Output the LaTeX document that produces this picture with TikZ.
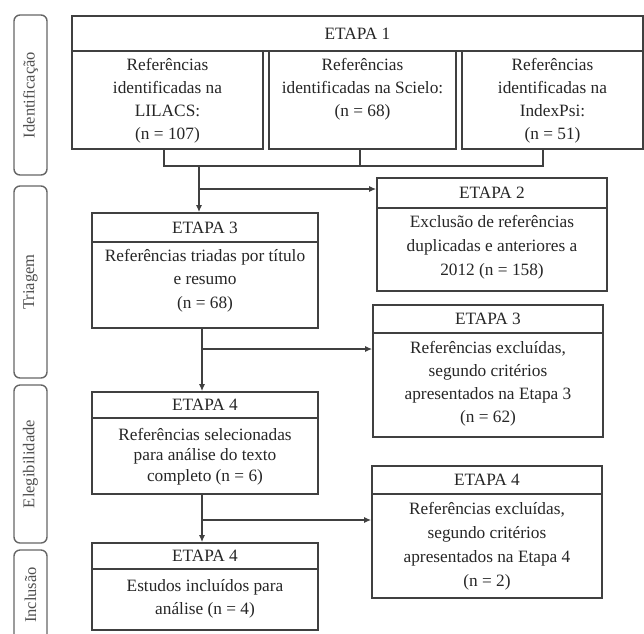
\documentclass[tikz,border=0pt]{standalone}
\usepackage{fontspec}
\setmainfont{Liberation Serif}
\usetikzlibrary{arrows.meta}
\definecolor{linec}{HTML}{404040}
\definecolor{sidec}{HTML}{666666}
\definecolor{txtc}{HTML}{262626}
\definecolor{sidetxt}{HTML}{505050}
\begin{document}
\begin{tikzpicture}[x=1pt,y=-1pt,
  stagebox/.style={draw=linec, line width=1.6pt, rectangle, inner sep=0pt},
  divline/.style={draw=linec, line width=1.6pt},
  sidebox/.style={draw=sidec, line width=1.4pt, rounded corners=6pt, rectangle, inner sep=0pt, minimum width=33pt},
  sidetext/.style={rotate=90, text=sidetxt, inner sep=0pt, font=\fontsize{16.5}{18}\selectfont},
  headtext/.style={text=txtc, inner sep=0pt, font=\fontsize{17.3}{23}\selectfont},
  bodytext/.style={text=txtc, inner sep=0pt, align=center, font=\fontsize{17.3}{23}\selectfont},
  conn/.style={draw=linec, line width=1.6pt},
  arr/.style={conn, -{Latex[length=7pt,width=6pt]}}
]
\clip (0,0) rectangle (644,633);
\fill[white] (0,0) rectangle (644,633);

% side phase boxes
\node[sidebox, minimum height=160pt] (sid) at (30.5,95) {};
\node[sidetext] (tid) at (30.5,95) {Identificação};
\node[sidebox, minimum height=192pt] (str) at (30.5,282) {};
\node[sidetext] (ttr) at (30.5,282) {Triagem};
\node[sidebox, minimum height=158pt] (sel) at (30.5,464) {};
\node[sidetext] (tel) at (30.5,464) {Elegibilidade};
\node[sidebox, minimum height=95pt] (sin) at (30.5,597.5) {};
\node[sidetext] (tin) at (30.5,595) {Inclusão};

% ETAPA 1
\node[stagebox, minimum width=571pt, minimum height=35pt] (h1) at (357.5,33.5) {};
\node[headtext] (th1) at (357.5,33.5) {ETAPA 1};
\node[stagebox, minimum width=191pt, minimum height=98pt] (l1) at (167.5,100) {};
\node[bodytext] (tl1) at (167.5,100.5) {Referências\\identificadas na\\LILACS:\\(n = 107)};
\node[stagebox, minimum width=187pt, minimum height=98pt] (s1) at (362.5,100) {};
\node[bodytext] (ts1) at (362.5,89) {Referências\\identificadas na Scielo:\\(n = 68)};
\node[stagebox, minimum width=181pt, minimum height=98pt] (i1) at (552.5,100) {};
\node[bodytext] (ti1) at (552.5,100.5) {Referências\\identificadas na\\IndexPsi:\\(n = 51)};

% ETAPA 2
\node[stagebox, minimum width=230pt, minimum height=113pt] (e2) at (492,234.5) {};
\draw[divline] (e2.west |- 0,208) -- (e2.east |- 0,208);
\node[headtext] (te2h) at (492,193) {ETAPA 2};
\node[bodytext, font=\fontsize{17.3}{24}\selectfont] (te2) at (492,247) {Exclusão de referências\\duplicadas e anteriores a\\2012 (n = 158)};

% ETAPA 3 (left)
\node[stagebox, minimum width=226pt, minimum height=115pt] (e3) at (205,270.5) {};
\draw[divline] (e3.west |- 0,242) -- (e3.east |- 0,242);
\node[headtext] (te3h) at (205,227.5) {ETAPA 3};
\node[bodytext, font=\fontsize{17.3}{23.5}\selectfont] (te3) at (205,280.5) {Referências triadas por título\\e resumo\\(n = 68)};

% ETAPA 3 (right)
\node[stagebox, minimum width=230pt, minimum height=132pt] (x3) at (488,371) {};
\draw[divline] (x3.west |- 0,333) -- (x3.east |- 0,333);
\node[headtext] (tx3h) at (488,319) {ETAPA 3};
\node[bodytext] (tx3) at (488,383.5) {Referências excluídas,\\segundo critérios\\apresentados na Etapa 3\\(n = 62)};

% ETAPA 4 (left)
\node[stagebox, minimum width=226pt, minimum height=102pt] (e4) at (205,443) {};
\draw[divline] (e4.west |- 0,418) -- (e4.east |- 0,418);
\node[headtext] (te4h) at (205,405) {ETAPA 4};
\node[bodytext, font=\fontsize{17.3}{20.5}\selectfont] (te4) at (205,456.5) {Referências selecionadas\\para análise do texto\\completo (n = 6)};

% ETAPA 4 (right)
\node[stagebox, minimum width=230pt, minimum height=132pt] (x4) at (487,532) {};
\draw[divline] (x4.west |- 0,494) -- (x4.east |- 0,494);
\node[headtext] (tx4h) at (487,480) {ETAPA 4};
\node[bodytext, font=\fontsize{17.3}{24}\selectfont] (tx4) at (487,546) {Referências excluídas,\\segundo critérios\\apresentados na Etapa 4\\(n = 2)};

% ETAPA 4 (bottom)
\node[stagebox, minimum width=226pt, minimum height=87pt] (e5) at (205,586.5) {};
\draw[divline] (e5.west |- 0,569) -- (e5.east |- 0,569);
\node[headtext] (te5h) at (205,556) {ETAPA 4};
\node[bodytext] (te5) at (205,598.5) {Estudos incluídos para\\análise (n = 4)};

% connectors
\coordinate (jl) at (164,166);
\coordinate (js) at (360,166);
\coordinate (ji) at (543,166);
\coordinate (d1) at (199,166);
\coordinate (b1) at (199,189);
\coordinate (c2) at (202,349);
\coordinate (c3) at (202,520);
\draw[conn] (l1.south -| jl) -- (jl) -- (ji) -- (i1.south -| ji);
\draw[conn] (s1.south -| js) -- (js);
\draw[arr] (d1) -- (e3.north -| d1);
\draw[arr] (b1) -- (e2.west |- b1);
\draw[arr] (e3.south -| c2) -- (e4.north -| c2);
\draw[arr] (c2) -- (x3.west |- c2);
\draw[arr] (e4.south -| c3) -- (e5.north -| c3);
\draw[arr] (c3) -- (x4.west |- c3);
\end{tikzpicture}
\end{document}
